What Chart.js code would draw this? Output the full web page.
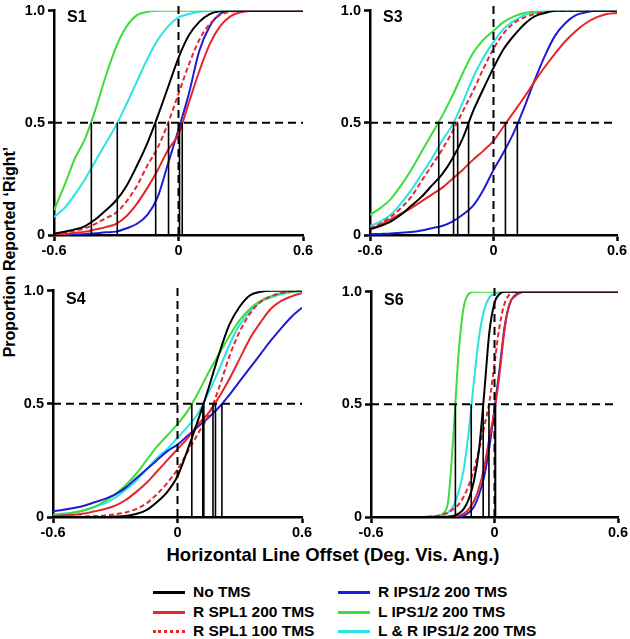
<!DOCTYPE html>
<html>
<head>
<meta charset="utf-8">
<script src="https://cdn.jsdelivr.net/npm/chart.js@4.4.1/dist/chart.umd.min.js"></script>
<style>
  body { margin: 0; width: 630px; height: 639px; background: #fff; position: relative; overflow: hidden;
         font-family: "Liberation Sans", Arial, sans-serif; font-weight: bold; color: #000; }
  canvas { position: absolute; }
  .ytitle { position: absolute; left: 10px; top: 252px; transform: translate(-50%, -50%) rotate(-90deg);
            font-size: 16px; white-space: nowrap; }
  .xtitle { position: absolute; left: 333px; top: 555px; transform: translate(-50%, -50%);
            font-size: 18.5px; white-space: nowrap; }
  .leg { position: absolute; height: 16px; line-height: 16px; font-size: 15.5px; white-space: nowrap;
         display: flex; align-items: center; }
  .leg span.swatch { display: inline-block; width: 32px; height: 0; margin-right: 8px; }
</style>
</head>
<body>
<div class="ytitle">Proportion Reported ‘Right’</div>
<div class="xtitle">Horizontal Line Offset (Deg. Vis. Ang.)</div>
<div id="legend"></div>
<canvas id="s1"></canvas>
<canvas id="s3"></canvas>
<canvas id="s4"></canvas>
<canvas id="s6"></canvas>
<script>
// series, in legend order
const seriesNames = ['No TMS', 'R SPL1 200 TMS', 'R SPL1 100 TMS', 'R IPS1/2 200 TMS', 'L IPS1/2 200 TMS', 'L & R IPS1/2 200 TMS'];
const seriesColors = ['#000000', '#e5262a', '#e5262a', '#1c1cd6', '#3ddc3d', '#2ae4e4'];

const xTicks = [-0.6, 0, 0.6];
const yTicks = [0, 0.5, 1.0];

// offsets (deg) where the fitted curves were read
const xGrid = [-0.6, -0.55, -0.5, -0.45, -0.4, -0.35, -0.3, -0.25, -0.2, -0.15, -0.1, -0.05, 0,
               0.05, 0.1, 0.15, 0.2, 0.25, 0.3, 0.35, 0.4, 0.45, 0.5, 0.55, 0.6];
const xGridS6 = [-0.6, -0.4, -0.35, -0.3, -0.275, -0.25, -0.225, -0.2, -0.175, -0.15, -0.125, -0.1, -0.075,
                 -0.05, -0.025, 0, 0.025, 0.05, 0.075, 0.1, 0.125, 0.15, 0.2, 0.6];

// S1
const s1NoTms   = [.005, .015, .025, .04, .07, .11, .155, .22, .31, .41, .53, .66, .79, .89, .95, .985, .998, 1, 1, 1, 1, 1, 1, 1, 1];
const s1Spl200  = [.003, .005, .01, .015, .025, .035, .05, .085, .14, .21, .29, .38, .45, .59, .73, .85, .93, .975, .993, 1, 1, 1, 1, 1, 1];
const s1Spl100  = [.005, .01, .02, .03, .05, .075, .10, .15, .22, .31, .39, .50, .63, .76, .87, .94, .98, .995, 1, 1, 1, 1, 1, 1, 1];
const s1Ips     = [0, 0, .002, .004, .008, .012, .015, .03, .05, .09, .17, .32, .47, .63, .82, .93, .985, 1, 1, 1, 1, 1, 1, 1, 1];
const s1LIps    = [.11, .22, .34, .43, .56, .71, .84, .93, .98, .995, 1, 1, 1, 1, 1, 1, 1, 1, 1, 1, 1, 1, 1, 1, 1];
const s1LRIps   = [.08, .12, .18, .25, .33, .41, .49, .585, .685, .785, .87, .93, .97, .985, .995, 1, 1, 1, 1, 1, 1, 1, 1, 1, 1];
const s1Pse     = [-0.11, 0.018, -0.048, 0.005, -0.42, -0.295];

// S3
const s3NoTms   = [.025, .04, .06, .09, .13, .17, .22, .27, .34, .43, .55, .65, .745, .83, .89, .94, .975, .99, 1, 1, 1, 1, 1, 1, 1];
const s3Spl200  = [.025, .045, .07, .095, .12, .15, .18, .21, .25, .29, .335, .375, .42, .485, .55, .615, .685, .75, .81, .865, .91, .945, .97, .985, .99];
const s3Spl100  = [.03, .05, .08, .12, .17, .24, .31, .38, .46, .55, .64, .74, .83, .90, .945, .97, .985, .995, 1, 1, 1, 1, 1, 1, 1];
const s3Ips     = [.003, .005, .007, .01, .013, .02, .03, .04, .06, .09, .13, .20, .29, .37, .46, .57, .69, .80, .89, .945, .98, .993, 1, 1, 1];
const s3LIps    = [.09, .12, .16, .22, .29, .37, .45, .53, .62, .72, .81, .87, .91, .95, .975, .99, .995, 1, 1, 1, 1, 1, 1, 1, 1];
const s3LRIps   = [.04, .06, .09, .14, .20, .27, .34, .42, .49, .59, .70, .79, .86, .92, .955, .98, .99, .997, 1, 1, 1, 1, 1, 1, 1];
const s3Pse     = [-0.121, 0.058, -0.174, 0.116, -0.266, -0.194];

// S4
const s4NoTms   = [0, 0, 0, 0, 0, 0, .002, .005, .013, .03, .065, .11, .18, .30, .43, .57, .72, .85, .93, .98, .995, 1, 1, 1, 1];
const s4Spl200  = [.004, .007, .01, .015, .025, .035, .05, .075, .11, .15, .20, .25, .30, .35, .41, .46, .53, .61, .70, .79, .86, .92, .955, .975, .99];
const s4Spl100  = [0, 0, .001, .002, .004, .007, .012, .02, .035, .06, .10, .15, .21, .29, .37, .45, .57, .71, .82, .90, .95, .975, .99, .997, 1];
const s4Ips     = [.025, .032, .04, .05, .065, .08, .10, .13, .17, .21, .25, .29, .32, .36, .40, .44, .485, .54, .60, .66, .72, .78, .835, .885, .925];
const s4LIps    = [.008, .012, .02, .03, .045, .07, .10, .14, .19, .25, .31, .36, .41, .47, .55, .64, .72, .80, .87, .92, .955, .975, .99, .995, 1];
const s4LRIps   = [.01, .015, .02, .03, .045, .06, .085, .12, .16, .21, .26, .30, .35, .40, .46, .55, .65, .76, .85, .91, .95, .97, .985, .993, 1];
const s4Pse     = [0.127, 0.183, 0.171, 0.214, 0.069, 0.122];

// S6
const s6NoTms   = [0, 0, 0, 0, 0, 0, .002, .005, .015, .035, .08, .16, .30, .55, .82, .95, .99, 1, 1, 1, 1, 1, 1, 1];
const s6Spl200  = [0, 0, 0, 0, 0, 0, 0, .002, .006, .015, .035, .07, .13, .22, .35, .47, .64, .84, .95, .98, .995, 1, 1, 1];
const s6Spl100  = [0, 0, 0, .003, .006, .012, .02, .035, .055, .09, .14, .21, .30, .40, .51, .68, .85, .95, .99, 1, 1, 1, 1, 1];
const s6Ips     = [0, 0, 0, 0, 0, 0, 0, 0, .002, .006, .02, .045, .10, .18, .31, .48, .66, .85, .95, .985, .997, 1, 1, 1];
const s6LIps    = [0, 0, 0, .002, .005, .015, .07, .36, .72, .93, .99, 1, 1, 1, 1, 1, 1, 1, 1, 1, 1, 1, 1, 1];
const s6LRIps   = [0, 0, 0, .001, .003, .008, .02, .05, .11, .21, .38, .60, .80, .92, .975, .99, .997, 1, 1, 1, 1, 1, 1, 1];
const s6Pse     = [-0.055, 0.005, -0.027, 0.003, -0.19, -0.113];

const FONT = '"Liberation Sans", Arial, sans-serif';

// draws the subject name in the top-left corner of each panel
const panelLabel = {
  id: 'panelLabel',
  afterDraw(chart, args, opts) {
    const ctx = chart.ctx;
    const y1 = chart.scales.y.getPixelForValue(1);
    ctx.save();
    ctx.fillStyle = '#000';
    ctx.font = 'bold 16px ' + FONT;
    ctx.textBaseline = 'alphabetic';
    ctx.fillText(opts.text, chart.chartArea.left + 13, y1 + opts.dy);
    ctx.restore();
  }
};

function makePanel(id, label, labelDy, box, xs, curves, pse) {
  const yw = 50, xh = 30, pr = 16, pt = 10;
  const canvas = document.getElementById(id);
  canvas.width = box.r - box.l + yw + pr;
  canvas.height = box.y0 - box.y1 + pt + xh;
  canvas.style.left = (box.l - yw) + 'px';
  canvas.style.top = (box.y1 - pt) + 'px';

  const datasets = [];
  // dashed reference lines at 0 offset and 0.5 proportion
  datasets.push({ data: [{x: 0, y: 0}, {x: 0, y: 1.03}], borderColor: '#000', borderWidth: 2,
                  borderDash: [8, 5], pointRadius: 0, clip: false });
  datasets.push({ data: [{x: -0.6, y: 0.5}, {x: 0.6, y: 0.5}], borderColor: '#000', borderWidth: 2,
                  borderDash: [8, 5], pointRadius: 0 });
  // points of subjective equality
  pse.forEach(v => {
    datasets.push({ data: [{x: v, y: 0}, {x: v, y: 0.5}], borderColor: '#000', borderWidth: 1.6, pointRadius: 0 });
  });
  curves.forEach((ys, i) => {
    datasets.push({
      label: seriesNames[i],
      data: xs.map((x, j) => ({x: x, y: ys[j]})),
      borderColor: seriesColors[i],
      borderWidth: 2,
      borderDash: i === 2 ? [5, 3] : [],
      pointRadius: 0,
      cubicInterpolationMode: 'monotone'
    });
  });

  const tickFont = { family: FONT, size: 14.5, weight: 'bold' };
  new Chart(canvas, {
    type: 'line',
    data: { datasets: datasets },
    options: {
      responsive: false,
      animation: false,
      events: [],
      layout: { padding: { top: pt, right: pr, left: 0, bottom: 0 } },
      plugins: { legend: { display: false }, tooltip: { enabled: false }, panelLabel: { text: label, dy: labelDy } },
      scales: {
        x: {
          type: 'linear', min: -0.6, max: 0.6,
          afterBuildTicks: s => { s.ticks = xTicks.map(v => ({ value: v })); },
          afterFit: s => { s.height = xh; },
          ticks: { color: '#000', font: tickFont, padding: 1, maxRotation: 0, autoSkip: false,
                   callback: v => v === 0 ? '0' : v.toFixed(1) },
          grid: { drawOnChartArea: false, drawTicks: true, tickLength: 6, tickWidth: 2.5, tickColor: '#000' },
          border: { color: '#000', width: 2.5 }
        },
        y: {
          min: 0, max: 1,
          afterBuildTicks: s => { s.ticks = yTicks.map(v => ({ value: v })); },
          afterFit: s => { s.width = yw; },
          ticks: { color: '#000', font: tickFont, padding: 3,
                   callback: v => v === 0 ? '0' : v.toFixed(1) },
          grid: { drawOnChartArea: false, drawTicks: true, tickLength: 6, tickWidth: 2.5, tickColor: '#000' },
          border: { color: '#000', width: 2.5 }
        }
      }
    },
    plugins: [panelLabel]
  });
}

makePanel('s1', 'S1', 11, { l: 54, r: 303, y1: 9, y0: 235 }, xGrid,
          [s1NoTms, s1Spl200, s1Spl100, s1Ips, s1LIps, s1LRIps], s1Pse);
makePanel('s3', 'S3', 11, { l: 370, r: 617, y1: 9, y0: 235 }, xGrid,
          [s3NoTms, s3Spl200, s3Spl100, s3Ips, s3LIps, s3LRIps], s3Pse);
makePanel('s4', 'S4', 13, { l: 53, r: 302, y1: 289, y0: 517 }, xGrid,
          [s4NoTms, s4Spl200, s4Spl100, s4Ips, s4LIps, s4LRIps], s4Pse);
makePanel('s6', 'S6', 13, { l: 371, r: 618, y1: 290, y0: 517 }, xGridS6,
          [s6NoTms, s6Spl200, s6Spl100, s6Ips, s6LIps, s6LRIps], s6Pse);

// legend: two columns of three rows
const legend = document.getElementById('legend');
const legendPos = [[153, 584], [153, 604], [153, 623], [338, 584], [338, 604], [338, 623]];
seriesNames.forEach((name, i) => {
  const item = document.createElement('div');
  item.className = 'leg';
  item.style.left = legendPos[i][0] + 'px';
  item.style.top = legendPos[i][1] + 'px';
  const sw = document.createElement('span');
  sw.className = 'swatch';
  sw.style.borderTop = (i === 2 ? '3px dotted ' : '3.5px solid ') + seriesColors[i];
  item.appendChild(sw);
  item.appendChild(document.createTextNode(name));
  legend.appendChild(item);
});
</script>
</body>
</html>
